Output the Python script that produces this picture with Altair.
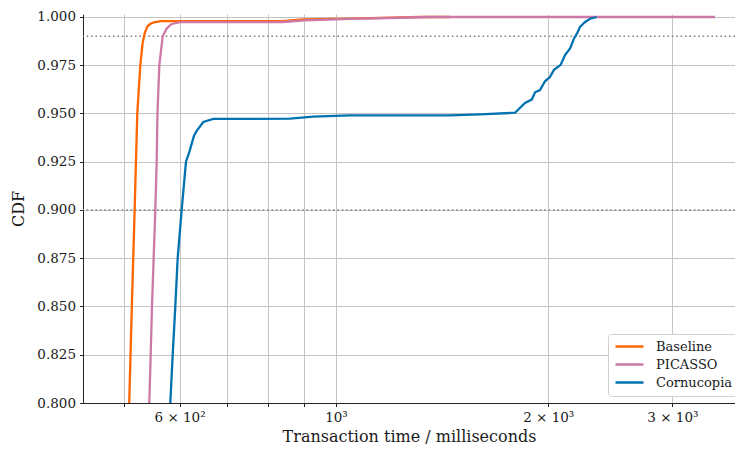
import altair as alt
import pandas as pd

series_names = ["Baseline", "PICASSO", "Cornucopia"]
series_colors = ["#ff6600", "#cc79a7", "#0072b2"]

baseline_ms = [509.0, 513.4, 518.1, 522.6, 527.8, 531.8, 535.5, 539.9, 546.0, 553.8, 564.8, 838.0, 898.0, 1047.0, 1315.0, 1451.0]
baseline_cdf = [0.800, 0.850, 0.900, 0.950, 0.975, 0.9866, 0.9917, 0.9950, 0.9966, 0.9974, 0.9979, 0.9979, 0.9988, 0.9992, 1.000, 1.000]

picasso_ms = [543.5, 546.0, 548.3, 551.3, 554.3, 556.8, 558.2, 561.6, 567.8, 575.3, 584.7, 600.8, 841.0, 903.6, 1047.0, 1232.6, 1359.5, 3448.0]
picasso_cdf = [0.800, 0.825, 0.850, 0.875, 0.900, 0.925, 0.950, 0.975, 0.990, 0.9941, 0.9964, 0.9973, 0.9974, 0.9982, 0.9990, 0.9996, 1.000, 1.000]

cornucopia_ms = [582.1, 586.7, 591.7, 596.3, 604.1, 612.7, 619.3, 629.0, 634.5, 648.4, 669.9, 860.6, 927.7, 1047.0, 1451.0, 1600.6, 1794.5,
                 1814.0, 1854.0, 1895.0, 1916.0, 1947.0, 1979.0, 2011.0, 2038.0, 2083.0, 2113.0, 2148.0, 2176.0, 2200.0, 2219.0, 2256.0, 2293.0, 2343.0]
cornucopia_cdf = [0.800, 0.825, 0.850, 0.875, 0.900, 0.925, 0.930, 0.9385, 0.941, 0.9456, 0.9472, 0.9473, 0.9484, 0.9490, 0.9490, 0.9495, 0.9504,
                  0.9521, 0.9555, 0.9572, 0.9610, 0.9621, 0.9667, 0.9689, 0.9726, 0.9752, 0.9803, 0.9837, 0.9889, 0.9918, 0.9949, 0.9974, 0.9991, 1.000]

ref_levels = [0.9, 0.99]
x_tick_values = [500, 600, 700, 800, 900, 1000, 2000, 3000]
y_tick_values = [0.800, 0.825, 0.850, 0.875, 0.900, 0.925, 0.950, 0.975, 1.000]

rows = []
for name, xs, ys in [("Baseline", baseline_ms, baseline_cdf),
                     ("PICASSO", picasso_ms, picasso_cdf),
                     ("Cornucopia", cornucopia_ms, cornucopia_cdf)]:
    for i, (a, b) in enumerate(zip(xs, ys)):
        rows.append({"series": name, "ms": a, "cdf": b, "idx": i})
df = pd.DataFrame(rows)
ref_df = pd.DataFrame({"y": ref_levels})

FONT = "DejaVu Serif"

label_expr = ("datum.value == 600 ? '6 × 10²' : datum.value == 1000 ? '10³' : "
              "datum.value == 2000 ? '2 × 10³' : datum.value == 3000 ? '3 × 10³' : ''")

x_enc = alt.X("ms:Q",
              scale=alt.Scale(type="log", domain=[437.7, 3681], nice=False),
              axis=alt.Axis(values=x_tick_values, labelExpr=label_expr, labelOverlap=False,
                            title="Transaction time / milliseconds",
                            tickSize=3.5, labelPadding=4, titlePadding=4))
y_enc = alt.Y("cdf:Q",
              scale=alt.Scale(domain=[0.8, 1.001554], nice=False, zero=False),
              axis=alt.Axis(values=y_tick_values, format=".3f", title="CDF", labelOverlap=False,
                            tickSize=3.5, labelPadding=4, titlePadding=10))

rules = alt.Chart(ref_df).mark_rule(strokeDash=[1.6, 2.8], color="#808080", strokeWidth=1.6).encode(
    y=alt.Y("y:Q")
)

lines = alt.Chart(df).mark_line(strokeWidth=2.3, clip=True).encode(
    x=x_enc,
    y=y_enc,
    color=alt.Color("series:N",
                    scale=alt.Scale(domain=series_names, range=series_colors),
                    sort=series_names,
                    legend=alt.Legend(title=None, orient="none", legendX=525, legendY=320,
                                      symbolType="M-1,0H4.6", symbolSize=100, symbolStrokeWidth=2.5,
                                      labelFont=FONT, labelFontSize=13, labelColor="#1a1a1a",
                                      fillColor="white", strokeColor="#d0d0d0", cornerRadius=3,
                                      padding=6, rowPadding=4, labelOffset=29)),
    order=alt.Order("idx:Q"),
)

chart = alt.layer(rules, lines).properties(
    width=652, height=389,
    autosize=alt.AutoSizeParams(type="none"),
    padding={"left": 75, "top": 6, "right": 0, "bottom": 43},
).configure_axis(
    labelFont=FONT, titleFont=FONT, labelFontSize=13.5, titleFontSize=16,
    titleFontWeight="normal", labelColor="#1a1a1a", titleColor="#1a1a1a",
    gridColor="#c4c4c4", gridWidth=1, domainColor="#222222", tickColor="#222222",
).configure_view(stroke=None)

chart.save("out.html", embed_options={"renderer": "svg", "actions": False})
